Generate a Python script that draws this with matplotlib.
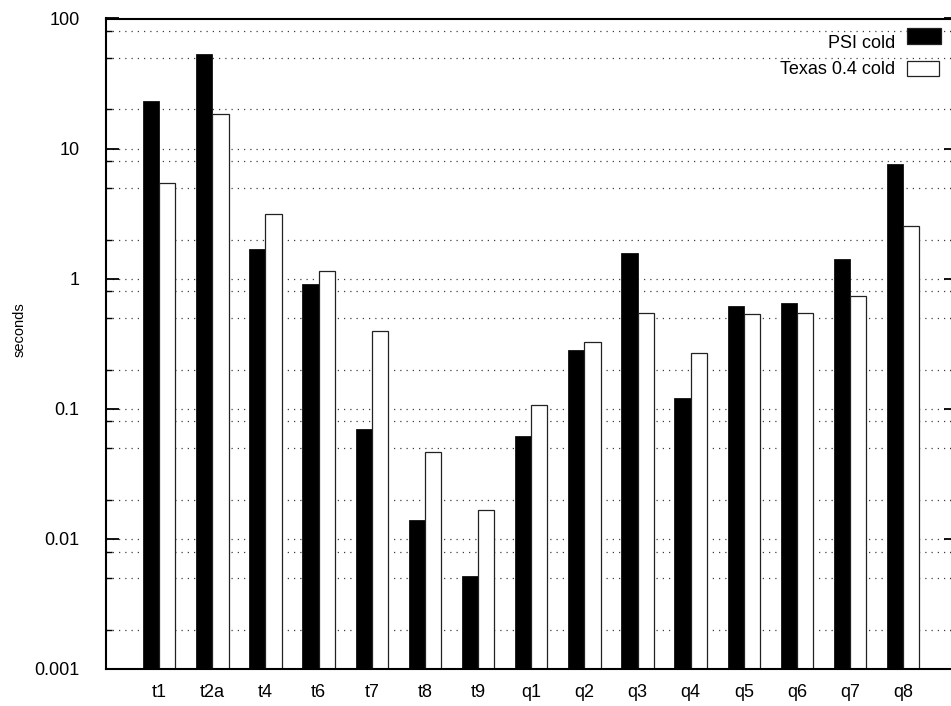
import matplotlib
matplotlib.use("Agg")
import matplotlib.pyplot as plt
from matplotlib.ticker import FixedLocator, LogLocator, NullFormatter
from matplotlib.patches import Rectangle
import numpy as np

# Query names and cold-run timings (seconds)
categories = ["t1", "t2a", "t4", "t6", "t7", "t8", "t9",
              "q1", "q2", "q3", "q4", "q5", "q6", "q7", "q8"]
psi_cold = [23.1, 53.1, 1.68, 0.91, 0.0696, 0.0140, 0.00521,
            0.0618, 0.282, 1.58, 0.1205, 0.617, 0.647, 1.42, 7.66]
texas_cold = [5.47, 18.4, 3.16, 1.14, 0.396, 0.0468, 0.0167,
              0.1064, 0.328, 0.542, 0.270, 0.536, 0.542, 0.736, 2.53]
series_names = ["PSI cold", "Texas 0.4 cold"]
y_ticks = [0.001, 0.01, 0.1, 1, 10, 100]
y_tick_labels = ["0.001", "0.01", "0.1", "1", "10", "100"]
y_label = "seconds"

W, H = 951, 706
plt.rcParams["font.family"] = ["Liberation Sans", "DejaVu Sans"]

fig = plt.figure(figsize=(W / 100, H / 100), dpi=100)


def fx(px):
    return px / W


def fy(py):
    return 1 - py / H


left, right, top, bottom = 106, 956.4, 18.5, 669
ax = fig.add_axes([fx(left), fy(bottom), fx(right - left), (bottom - top) / H])

ymin, ymax = y_ticks[0], y_ticks[-1]
x = np.arange(len(categories))
bw = 0.305
# bars rise from the bottom of the log axis up to each value
ax.bar(x - bw / 2, np.subtract(psi_cold, ymin), width=bw, bottom=ymin,
       color="black", edgecolor="#111111", linewidth=0.6, zorder=3)
ax.bar(x + bw / 2, np.subtract(texas_cold, ymin), width=bw, bottom=ymin,
       color="white", edgecolor="#222222", linewidth=0.9, zorder=3)

ax.set_yscale("log")
ax.set_ylim(ymin, ymax)
ax.set_xlim(-1, len(categories))

ax.yaxis.set_major_locator(FixedLocator(y_ticks))
ax.set_yticklabels(y_tick_labels)
ax.yaxis.set_minor_locator(LogLocator(base=10, subs=[2, 5, 8]))
ax.yaxis.set_minor_formatter(NullFormatter())

ax.set_xticks(x)
ax.set_xticklabels(categories)

ax.tick_params(axis="y", which="major", direction="in", length=9, width=1.3,
               left=True, right=True, labelsize=13, pad=19)
ax.tick_params(axis="y", which="minor", direction="in", length=4.5, width=1.0,
               left=True, right=True)
ax.tick_params(axis="x", which="both", length=0, labelsize=13, pad=11)

ax.grid(True, axis="y", which="both", color="0.25", linestyle=(0, (1, 4)),
        linewidth=0.9, zorder=0)
ax.set_axisbelow(True)

for s in ax.spines.values():
    s.set_linewidth(1.5)
    s.set_zorder(5)

fig.text(fx(20), fy(330), y_label, rotation=90, ha="center", va="center",
         fontsize=10.5)

# Key: right-aligned labels with sample boxes
key_rows = [
    (series_names[0], 44, (906.7, 28.3, 941, 44.3), "black"),
    (series_names[1], 70, (906.7, 61, 939, 76), "white"),
]
for label, ty, (x0, y0, x1, y1), fc in key_rows:
    fig.text(fx(895), fy(ty), label, ha="right", va="center", fontsize=13)
    fig.patches.append(Rectangle((fx(x0), fy(y1)), fx(x1 - x0), (y1 - y0) / H,
                                 transform=fig.transFigure, facecolor=fc,
                                 edgecolor="#222222", linewidth=0.9))

fig.savefig("out.png", dpi=100)
